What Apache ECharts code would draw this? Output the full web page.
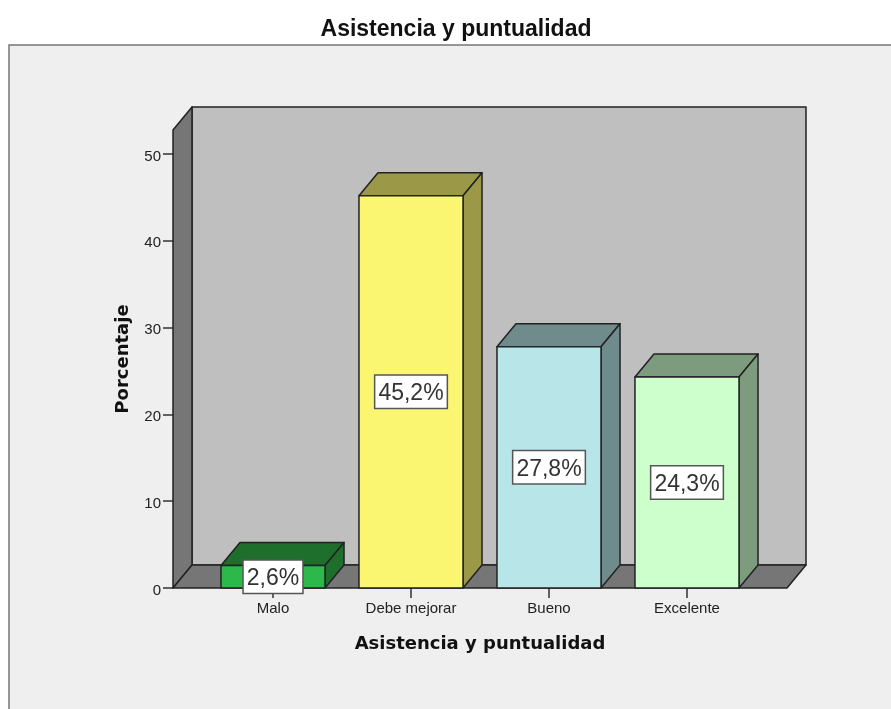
<!DOCTYPE html>
<html>
<head>
<meta charset="utf-8">
<style>html,body{margin:0;padding:0;background:#fff;overflow:hidden}#c{width:891px;height:709px}</style>
<script src="https://cdn.jsdelivr.net/npm/echarts@6/dist/echarts.min.js"></script>
</head>
<body>
<div id="c"></div>
<script>
const chartTitle = 'Asistencia y puntualidad';
const xAxisTitle = 'Asistencia y puntualidad';
const yAxisTitle = 'Porcentaje';
const categories = ['Malo', 'Debe mejorar', 'Bueno', 'Excelente'];
const percentages = [2.6, 45.2, 27.8, 24.3];
const frontColors = ['#2db84a', '#fbf672', '#b8e6e8', '#ccffcc'];
const shadeColors = ['#1e6e2c', '#9b9848', '#6f8b8c', '#7d9b7d'];

// Box depth and frame proportions, in pixels
const depthX = 19, depthY = 23, floorPad = 31, wallTopValue = 52.76, barRatio = 0.754;
const edge = { stroke: '#222', lineWidth: 1.5, lineJoin: 'round' };
const poly = (points, fill) => ({ type: 'polygon', shape: { points }, style: { fill, ...edge } });

// Back wall, side wall and floor of the 3D box
function renderFrame(params, api) {
  const cs = params.coordSys;
  const x0 = cs.x - floorPad, x1 = cs.x + cs.width + floorPad;
  const yb = api.coord([0, 0])[1], yt = api.coord([0, wallTopValue])[1];
  return { type: 'group', children: [
    poly([[x0 + depthX, yt - depthY], [x1 + depthX, yt - depthY], [x1 + depthX, yb - depthY], [x0 + depthX, yb - depthY]], '#bfbfbf'),
    poly([[x0, yt], [x0 + depthX, yt - depthY], [x0 + depthX, yb - depthY], [x0, yb]], '#767676'),
    poly([[x0, yb], [x0 + depthX, yb - depthY], [x1 + depthX, yb - depthY], [x1, yb]], '#767676')
  ] };
}

// Each bar is a front face, a top face and a side face
function renderBar(params, api) {
  const i = api.value(0), v = api.value(1);
  const w = api.size([1, 0])[0] * barRatio;
  const [cx, yt] = api.coord([i, v]);
  const yb = api.coord([i, 0])[1];
  const l = cx - w / 2, r = cx + w / 2;
  return { type: 'group', children: [
    poly([[l, yt], [l + depthX, yt - depthY], [r + depthX, yt - depthY], [r, yt]], shadeColors[i]),
    poly([[r, yt], [r + depthX, yt - depthY], [r + depthX, yb - depthY], [r, yb]], shadeColors[i]),
    poly([[l, yt], [r, yt], [r, yb], [l, yb]], frontColors[i])
  ] };
}

// White value box centred on the front face of the bar, text nudged to its optical middle
function renderLabel(params, api) {
  const i = api.value(0), v = api.value(1);
  const p = api.coord([i, v / 2]);
  const text = v.toFixed(1).replace('.', ',') + '%';
  const font = { fontFamily: 'Liberation Sans', fontSize: 23, align: 'center', verticalAlign: 'middle' };
  return { type: 'group', children: [
    { type: 'text', x: p[0], y: p[1], style: { ...font, text, fill: 'transparent',
      backgroundColor: '#fff', borderColor: '#555', borderWidth: 1.5, padding: [5, 3, 4, 3] } },
    { type: 'text', x: p[0], y: p[1] + 2, style: { ...font, text, fill: '#333' } }
  ] };
}

const barData = percentages.map((v, i) => [i, v]);
const chart = echarts.init(document.getElementById('c'), null, { renderer: 'canvas' });
chart.setOption({
  animation: false,
  backgroundColor: '#fff',
  title: {
    text: chartTitle, left: 451, top: 13, textAlign: 'center',
    textStyle: { fontFamily: 'Liberation Sans', fontWeight: 'bold', fontSize: 23, color: '#111' }
  },
  graphic: [{
    type: 'rect', z: -10, silent: true,
    shape: { x: 9, y: 45, width: 1000, height: 1000 },
    style: { fill: '#efefef', stroke: '#777', lineWidth: 1.5 }
  }],
  grid: { left: 204, right: 135, top: 154, bottom: 121 },
  xAxis: {
    type: 'category', data: categories,
    name: xAxisTitle, nameLocation: 'center', nameGap: 47,
    nameTextStyle: { fontFamily: 'DejaVu Sans', fontWeight: 'bold', fontSize: 18, color: '#111' },
    axisLine: { show: false },
    axisTick: { show: true, alignWithLabel: true, length: 10, lineStyle: { color: '#333', width: 1.5 } },
    axisLabel: { fontFamily: 'Liberation Sans', fontSize: 15, color: '#222', margin: 13 }
  },
  yAxis: {
    type: 'value', min: 0, max: 50, interval: 10, offset: floorPad,
    name: yAxisTitle, nameLocation: 'center', nameGap: 41, nameRotate: 90,
    nameTextStyle: { fontFamily: 'DejaVu Sans', fontWeight: 'bold', fontSize: 18, color: '#111', padding: [0, 0, 0, 24] },
    splitLine: { show: false },
    axisLine: { show: false },
    axisTick: { show: true, length: 10, lineStyle: { color: '#333', width: 1.5 } },
    axisLabel: { fontFamily: 'Liberation Sans', fontSize: 15, color: '#222', margin: 12, verticalAlign: 'top', lineHeight: 5 }
  },
  series: [
    { type: 'custom', z: 2, silent: true, renderItem: renderFrame, data: [[0, 0]], encode: { x: 0, y: 1 } },
    { type: 'custom', z: 3, silent: true, renderItem: renderBar, data: barData, encode: { x: 0, y: 1 } },
    { type: 'custom', z: 4, silent: true, renderItem: renderLabel, data: barData, encode: { x: 0, y: 1 } }
  ]
});
</script>
</body>
</html>
